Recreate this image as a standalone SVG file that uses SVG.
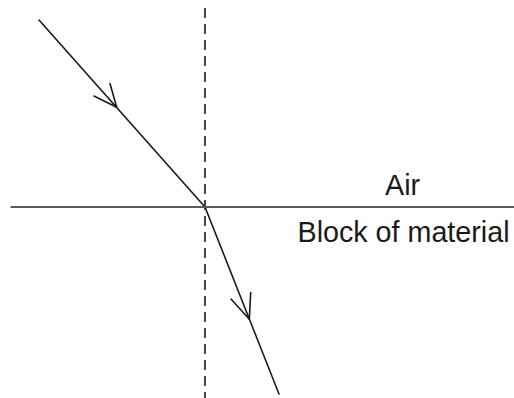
<svg xmlns="http://www.w3.org/2000/svg" width="514" height="398" viewBox="0 0 514 398">
<style>
.ray{stroke:#1a1a1a;stroke-width:1.6;fill:none;stroke-linecap:round;stroke-linejoin:round}
.normal{stroke:#1a1a1a;stroke-width:1.6;stroke-dasharray:10 6;fill:none}
.surface{stroke:#5a5a5a;stroke-width:2;fill:none}
.lbl{font-family:"Liberation Sans",Arial,sans-serif;font-size:28.7px;fill:#1a1a1a}
</style>
<rect width="514" height="398" fill="#ffffff"/>
<g id="connectors">
<line id="normal" class="normal" x1="205" y1="8" x2="205" y2="398"/>
<line id="incident" class="ray" x1="39" y1="20" x2="205" y2="207"/>
<polyline id="incident-arrow" class="ray" points="110,83.5 116.7,107.3 94,96"/>
<line id="refracted" class="ray" x1="205" y1="207" x2="279" y2="394"/>
<polyline id="refracted-arrow" class="ray" points="250.7,292.5 249.3,319.3 231,299"/>
</g>
<g id="surface">
<line class="surface" x1="10.5" y1="207" x2="514" y2="207"/>
</g>
<g id="air">
<text class="lbl" x="385" y="195">Air</text>
</g>
<g id="block">
<text class="lbl" x="297.5" y="241.5">Block of material</text>
</g>
</svg>
